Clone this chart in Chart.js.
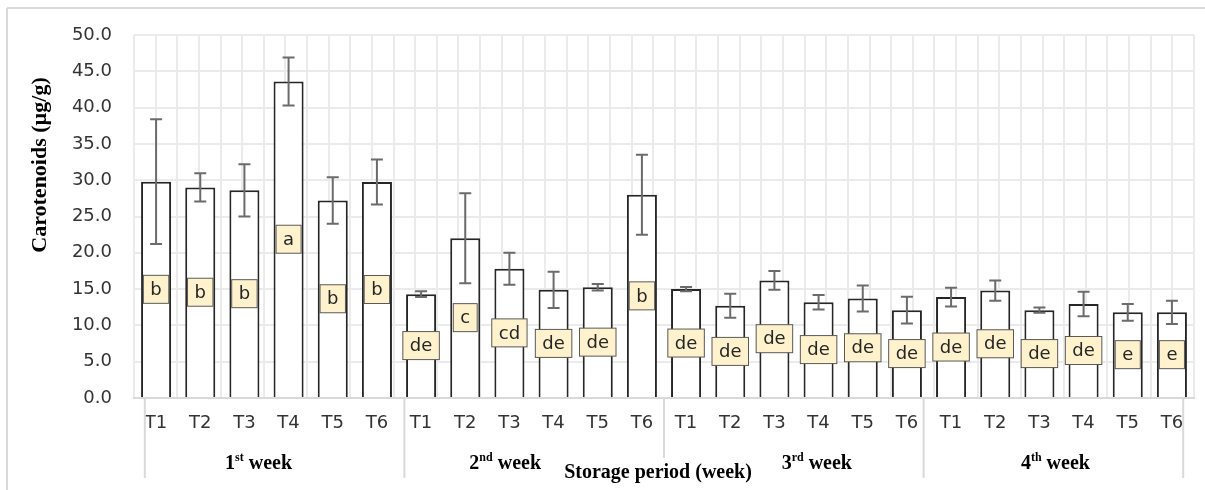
<!DOCTYPE html>
<html>
<head>
<meta charset="utf-8">
<script src="https://cdn.jsdelivr.net/npm/chart.js@4.4.1/dist/chart.umd.min.js"></script>
<style>
  body { margin: 0; background: #fff; }
  #wrap { width: 1205px; height: 490px; }
</style>
</head>
<body>
<div id="wrap"><canvas id="chart" width="1205" height="490"></canvas></div>
<script>
const categories = ["T1", "T2", "T3", "T4", "T5", "T6",
                    "T1", "T2", "T3", "T4", "T5", "T6",
                    "T1", "T2", "T3", "T4", "T5", "T6",
                    "T1", "T2", "T3", "T4", "T5", "T6"];
const weekNumbers = ["1", "2", "3", "4"];
const weekSuffixes = ["st", "nd", "rd", "th"];
const carotenoids = [29.8, 29.0, 28.6, 43.6, 27.2, 29.75,
                     14.3, 22.0, 17.8, 14.9, 15.25, 28.0,
                     15.0, 12.7, 16.2, 13.2, 13.7, 12.1,
                     13.9, 14.8, 12.1, 12.95, 11.8, 11.8];
const stdErrors = [8.6, 1.95, 3.6, 3.3, 3.2, 3.1,
                   0.4, 6.2, 2.2, 2.5, 0.45, 5.5,
                   0.3, 1.65, 1.3, 1.0, 1.8, 1.85,
                   1.3, 1.4, 0.35, 1.7, 1.15, 1.6];
const letters = ["b", "b", "b", "a", "b", "b",
                 "de", "c", "cd", "de", "de", "b",
                 "de", "de", "de", "de", "de", "de",
                 "de", "de", "de", "de", "e", "e"];
const yTicks = [0, 5, 10, 15, 20, 25, 30, 35, 40, 45, 50];

const tickFont = { family: "DejaVu Sans", size: 18 };
const serifBold = "bold 20px 'Liberation Serif'";

// frame + axis separators under the chart
const decorPlugin = {
    id: "decor",
    beforeDraw(chart) {
        const ctx = chart.ctx;
        ctx.save();
        ctx.strokeStyle = "#d9d9d9";
        ctx.lineWidth = 2;
        ctx.beginPath();
        ctx.moveTo(7, 8); ctx.lineTo(1205, 8);
        ctx.moveTo(7, 8); ctx.lineTo(7, 490);
        ctx.stroke();
        ctx.restore();
    },
    afterDraw(chart) {
        const ctx = chart.ctx;
        const grid = chart.scales.x2;
        const area = chart.chartArea;
        ctx.save();
        ctx.strokeStyle = "#d9d9d9";
        ctx.lineWidth = 2;
        [-0.5, 5.5, 11.5, 17.5, 23.5].forEach(b => {
            const x = grid.getPixelForValue(b);
            ctx.beginPath();
            ctx.moveTo(x, area.bottom);
            ctx.lineTo(x, 478);
            ctx.stroke();
        });

        // week labels with superscripts
        const shifts = [-16, -29, 23, 2];
        ctx.fillStyle = "#000";
        ctx.textBaseline = "alphabetic";
        weekNumbers.forEach((n, w) => {
            const cx = grid.getPixelForValue(w * 6 + 2.5) + shifts[w];
            ctx.font = serifBold;
            const wNum = ctx.measureText(n).width;
            const wRest = ctx.measureText(" week").width;
            ctx.font = "bold 12px 'Liberation Serif'";
            const wSup = ctx.measureText(weekSuffixes[w]).width;
            let x = cx - (wNum + wSup + wRest) / 2;
            const base = 469;
            ctx.textAlign = "left";
            ctx.font = serifBold;
            ctx.fillText(n, x, base);
            x += wNum;
            ctx.font = "bold 12px 'Liberation Serif'";
            ctx.fillText(weekSuffixes[w], x, base - 8);
            x += wSup;
            ctx.font = serifBold;
            ctx.fillText(" week", x, base);
        });

        // x axis title with white background
        ctx.font = serifBold;
        const t = "Storage period (week)";
        const tw = ctx.measureText(t).width;
        ctx.fillStyle = "#fff";
        ctx.fillRect(658 - tw / 2 - 6, 458, tw + 12, 30);
        ctx.fillStyle = "#000";
        ctx.textAlign = "center";
        ctx.textBaseline = "middle";
        ctx.fillText(t, 658, 473);

        // y axis title
        ctx.font = "bold 22px 'Liberation Serif'";
        ctx.translate(40, 165);
        ctx.rotate(-Math.PI / 2);
        ctx.fillText("Carotenoids (\u00b5g/g)", 0, 0);
        ctx.restore();
    }
};

// error bars and significance letters
const marksPlugin = {
    id: "marks",
    afterDatasetsDraw(chart) {
        const ctx = chart.ctx;
        const y = chart.scales.y;
        const bars = chart.getDatasetMeta(0).data;
        ctx.save();
        ctx.strokeStyle = "#6b6b6b";
        ctx.lineWidth = 2;
        bars.forEach((bar, i) => {
            const top = y.getPixelForValue(carotenoids[i] + stdErrors[i]);
            const bot = y.getPixelForValue(carotenoids[i] - stdErrors[i]);
            ctx.beginPath();
            ctx.moveTo(bar.x, top); ctx.lineTo(bar.x, bot);
            ctx.moveTo(bar.x - 6, top); ctx.lineTo(bar.x + 6, top);
            ctx.moveTo(bar.x - 6, bot); ctx.lineTo(bar.x + 6, bot);
            ctx.stroke();
        });

        ctx.font = "18px 'DejaVu Sans'";
        ctx.textAlign = "center";
        ctx.textBaseline = "middle";
        bars.forEach((bar, i) => {
            const cy = (bar.y + bar.base) / 2;
            const w = ctx.measureText(letters[i]).width + 14;
            const h = 28;
            ctx.fillStyle = "#fff2cc";
            ctx.fillRect(bar.x - w / 2, cy - h / 2, w, h);
            ctx.strokeStyle = "#595959";
            ctx.lineWidth = 1;
            ctx.strokeRect(bar.x - w / 2, cy - h / 2, w, h);
            ctx.fillStyle = "#262626";
            ctx.fillText(letters[i], bar.x, cy + 1);
        });
        ctx.restore();
    }
};

new Chart(document.getElementById("chart"), {
    type: "bar",
    data: {
        labels: categories,
        datasets: [{
            data: carotenoids,
            backgroundColor: "#ffffff",
            borderColor: "#262626",
            borderWidth: 2,
            barPercentage: 0.68,
            categoryPercentage: 1
        }]
    },
    options: {
        responsive: false,
        animation: false,
        layout: { padding: { left: 0, right: 11, top: 35, bottom: 0 } },
        plugins: { legend: { display: false }, tooltip: { enabled: false } },
        scales: {
            x: {
                type: "category",
                offset: true,
                grid: { display: false, drawTicks: false },
                border: { color: "#d9d9d9", width: 2 },
                ticks: { font: tickFont, color: "#333333", padding: 15, maxRotation: 0, autoSkip: false },
                afterFit(scale) { scale.height = 92; }
            },
            x2: {
                type: "linear",
                position: "bottom",
                min: -0.5,
                max: 23.5,
                grid: { color: "#ebebeb", lineWidth: 2, drawTicks: false },
                border: { display: false },
                ticks: { display: false, stepSize: 0.5, maxTicksLimit: 100, autoSkip: false },
                afterFit(scale) { scale.height = 0; }
            },
            y: {
                min: 0,
                max: 50,
                afterBuildTicks(scale) { scale.ticks = yTicks.map(v => ({ value: v })); },
                grid: { color: "#ebebeb", lineWidth: 2, drawTicks: false },
                border: { display: false },
                ticks: { font: tickFont, color: "#333333", padding: 22, callback: v => v.toFixed(1) },
                afterFit(scale) { scale.width = 134; }
            }
        }
    },
    plugins: [decorPlugin, marksPlugin]
});
</script>
</body>
</html>
